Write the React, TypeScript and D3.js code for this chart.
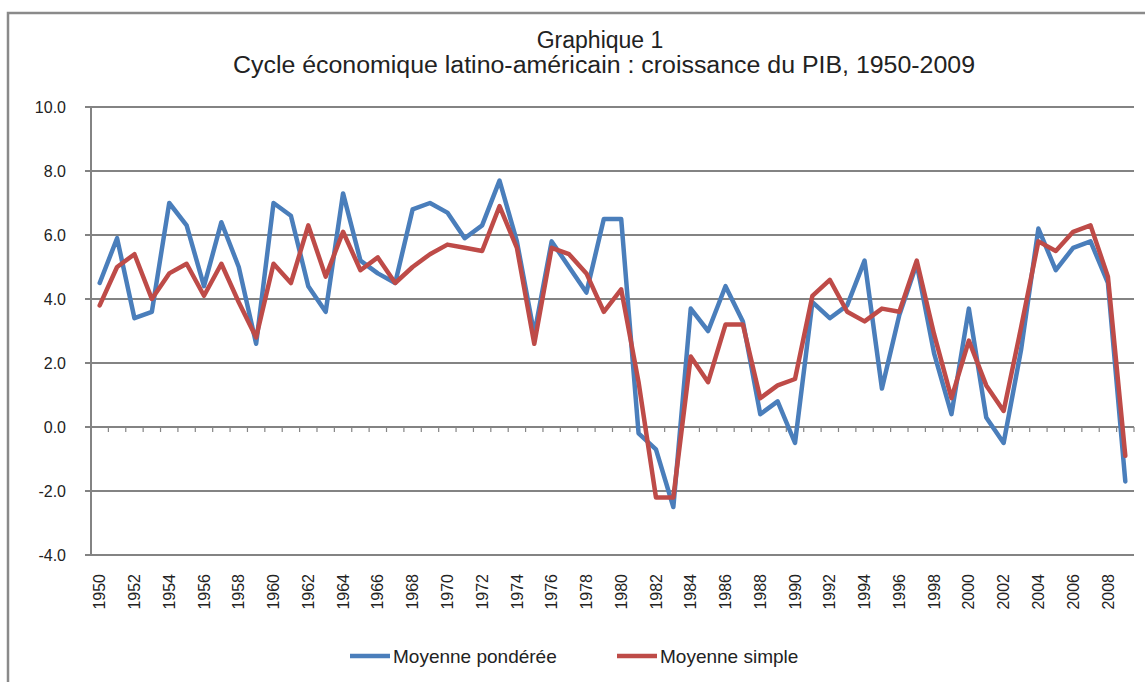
import React from "react";
import * as d3 from "d3";

const years = d3.range(1950, 2010).map(String);

// Moyenne pondérée (blue)
const weighted = [
  4.5, 5.9, 3.4, 3.6, 7.0, 6.3, 4.4, 6.4, 5.0, 2.6,
  7.0, 6.6, 4.4, 3.6, 7.3, 5.2, 4.8, 4.5, 6.8, 7.0,
  6.7, 5.9, 6.3, 7.7, 5.8, 2.9, 5.8, 5.0, 4.2, 6.5,
  6.5, -0.2, -0.7, -2.5, 3.7, 3.0, 4.4, 3.3, 0.4, 0.8,
  -0.5, 3.9, 3.4, 3.8, 5.2, 1.2, 3.5, 5.1, 2.3, 0.4,
  3.7, 0.3, -0.5, 2.4, 6.2, 4.9, 5.6, 5.8, 4.5, -1.7,
];

// Moyenne simple (red)
const simple = [
  3.8, 5.0, 5.4, 4.0, 4.8, 5.1, 4.1, 5.1, 3.9, 2.8,
  5.1, 4.5, 6.3, 4.7, 6.1, 4.9, 5.3, 4.5, 5.0, 5.4,
  5.7, 5.6, 5.5, 6.9, 5.6, 2.6, 5.6, 5.4, 4.8, 3.6,
  4.3, 1.4, -2.2, -2.2, 2.2, 1.4, 3.2, 3.2, 0.9, 1.3,
  1.5, 4.1, 4.6, 3.6, 3.3, 3.7, 3.6, 5.2, 2.9, 0.9,
  2.7, 1.3, 0.5, 3.1, 5.8, 5.5, 6.1, 6.3, 4.7, -0.9,
];

const yTicks = [-4, -2, 0, 2, 4, 6, 8, 10];

const seriesNames = ["Moyenne pondérée", "Moyenne simple"];
const colors = ["#4a7ebb", "#be4b48"];

const W = 1145;
const H = 682;
const font = "'Liberation Sans', Arial, sans-serif";

export default function App() {
  const x = d3.scaleBand<string>().domain(years).range([91, 1134]);
  const y = d3.scaleLinear().domain([-4, 10]).range([555, 107]);
  const cx = (yr: string) => (x(yr) as number) + x.bandwidth() / 2;

  const line = d3
    .line<number>()
    .x((_, i) => cx(years[i]))
    .y((d) => y(d));

  const series = [weighted, simple];

  return (
    <svg
      width={W}
      height={H}
      style={{ position: "absolute", left: 0, top: 0, background: "#fff" }}
      fontFamily={font}
    >
      {/* outer frame */}
      <rect x={8} y={13} width={1160} height={700} fill="#fff" stroke="#8a8a8a" strokeWidth={2.5} />

      <text x={600} y={48} textAnchor="middle" fontSize={23} fill="#222">
        Graphique 1
      </text>
      <text
        x={604}
        y={73}
        textAnchor="middle"
        fontSize={23}
        fill="#222"
        textLength={742}
        lengthAdjust="spacingAndGlyphs"
      >
        Cycle économique latino-américain : croissance du PIB, 1950-2009
      </text>

      {/* gridlines + y axis */}
      {yTicks.map((t) => (
        <g key={t}>
          <line x1={85} x2={1134} y1={y(t)} y2={y(t)} stroke="#838383" strokeWidth={2.2} />
          <text x={66} y={y(t)} dy="0.35em" textAnchor="end" fontSize={16} fill="#222">
            {t.toFixed(1)}
          </text>
        </g>
      ))}
      <line x1={91} x2={91} y1={y(10)} y2={y(-4)} stroke="#838383" strokeWidth={2} />

      {/* category ticks on zero line */}
      {years.map((yr) => (
        <line
          key={yr}
          x1={(x(yr) as number) + x.bandwidth()}
          x2={(x(yr) as number) + x.bandwidth()}
          y1={y(0)}
          y2={y(0) + 5}
          stroke="#858585"
          strokeWidth={1.2}
        />
      ))}

      {/* x labels */}
      {years
        .filter((_, i) => i % 2 === 0)
        .map((yr) => (
          <text
            key={yr}
            transform={`translate(${cx(yr)},574) rotate(-90)`}
            textAnchor="end"
            dy="0.35em"
            fontSize={16}
            fill="#222"
          >
            {yr}
          </text>
        ))}

      {/* series */}
      {series.map((s, i) => (
        <path
          key={i}
          d={line(s) as string}
          fill="none"
          stroke={colors[i]}
          strokeWidth={4.5}
          strokeLinejoin="round"
          strokeLinecap="round"
        />
      ))}

      {/* legend */}
      {seriesNames.map((name, i) => {
        const lx = i === 0 ? 350 : 617;
        return (
          <g key={name}>
            <line x1={lx} x2={lx + 40} y1={656} y2={656} stroke={colors[i]} strokeWidth={4.5} />
            <text x={lx + 43} y={656} dy="0.35em" fontSize={19} fill="#222">
              {name}
            </text>
          </g>
        );
      })}
    </svg>
  );
}
